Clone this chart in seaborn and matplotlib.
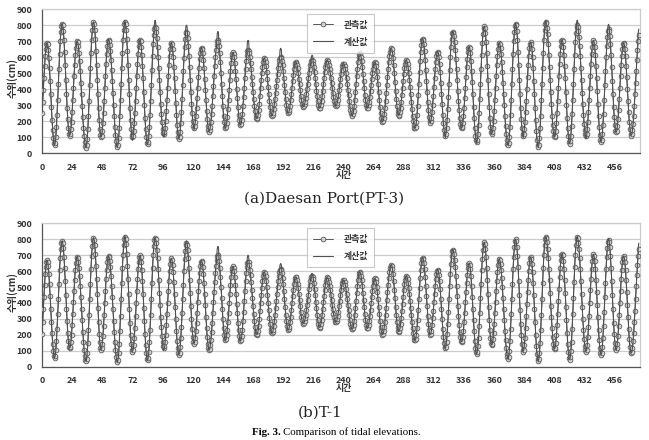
"""
Tidal elevation comparison: observed vs computed, two stations.
"""
import matplotlib
matplotlib.use('Agg')
import matplotlib.pyplot as plt
import seaborn as sns
import numpy as np

# half-hourly water level (cm)
step_hours = 0.5

# (a) Daesan Port (PT-3), observed
obs_a = [
    248, 319, 395, 471, 542, 604, 650, 680, 690,
    679, 647, 597, 530, 453, 370, 287, 210, 143, 93, 61, 50,
    63, 101, 161, 240, 332, 430, 528, 620, 699, 759, 797, 810,
    798, 763, 708, 635, 550, 460, 370, 285, 212, 157, 122, 110,
    120, 150, 196, 258, 329, 405, 481, 553, 614, 660, 690, 700,
    692, 667, 628, 575, 512, 441, 367, 294, 223, 160, 107, 68, 43, 35,
    48, 88, 150, 231, 326, 428, 529, 624, 705, 767, 807, 820,
    808, 772, 715, 640, 553, 460, 367, 280, 205, 148, 112, 100,
    110, 141, 189, 253, 326, 405, 484, 558, 621, 669, 700, 710,
    702, 677, 637, 584, 520, 449, 375, 301, 230, 166, 113, 73, 48, 40,
    53, 92, 154, 235, 329, 430, 531, 625, 706, 768, 807, 820,
    808, 772, 715, 640, 553, 460, 367, 280, 205, 148, 112, 100,
    110, 141, 189, 253, 326, 405, 484, 558, 621, 669, 700, 710,
    699, 666, 614, 546, 467, 382, 298, 219, 151, 99, 66, 55,
    67, 104, 162, 239, 328, 423, 517, 606, 683, 741, 778, 790,
    782, 757, 717, 664, 600, 529, 455, 381, 310, 246, 193, 153, 128, 120,
    130, 158, 203, 263, 331, 405, 479, 548, 607, 652, 680, 690,
    680, 650, 602, 540, 467, 390, 313, 240, 178, 130, 100, 90,
    101, 135, 188, 258, 339, 425, 511, 593, 662, 715, 749, 760,
    750, 720, 672, 610, 537, 460, 383, 310, 248, 200, 170, 160,
    169, 194, 233, 285, 346, 410, 475, 535, 587, 627, 652, 660,
    651, 625, 583, 529, 465, 397, 330, 266, 212, 170, 144, 135,
    142, 163, 197, 242, 296, 357, 420, 483, 544, 598, 643, 677, 698, 705,
    696, 668, 625, 567, 501, 430, 359, 292, 235, 192, 164, 155,
    163, 187, 224, 274, 331, 393, 454, 511, 561, 598, 622, 630,
    622, 600, 564, 516, 461, 402, 344, 289, 241, 205, 183, 175,
    183, 206, 244, 293, 349, 410, 471, 528, 576, 614, 637, 645,
    640, 624, 598, 564, 523, 478, 430, 382, 337, 296, 262, 236, 220, 215,
    221, 240, 270, 310, 356, 405, 454, 500, 540, 570, 589, 595,
    589, 571, 542, 505, 461, 415, 369, 325, 288, 259, 241, 235,
    240, 253, 275, 304, 338, 377, 418, 458, 497, 531, 560, 582, 595, 600,
    594, 577, 549, 512, 470, 425, 380, 337, 301, 273, 256, 250,
    255, 271, 297, 330, 369, 410, 451, 490, 523, 549, 565, 570,
    565, 551, 529, 500, 466, 430, 394, 360, 331, 309, 295, 290,
    294, 304, 322, 345, 372, 403, 435, 467, 498, 525, 548, 566, 576, 580,
    575, 560, 536, 505, 469, 430, 391, 355, 324, 300, 285, 280,
    285, 300, 324, 355, 391, 430, 469, 505, 536, 560, 575, 580,
    576, 566, 549, 526, 499, 469, 437, 406, 376, 349, 326, 309, 299, 295,
    300, 313, 334, 361, 393, 428, 462, 494, 521, 542, 555, 560,
    556, 544, 525, 499, 468, 434, 397, 361, 327, 296, 270, 251, 239, 235,
    242, 261, 292, 333, 380, 430, 480, 528, 568, 599, 618, 625,
    619, 602, 575, 539, 497, 452, 408, 366, 330, 303, 286, 280,
    285, 299, 322, 353, 388, 425, 462, 498, 528, 551, 565, 570,
    564, 545, 515, 476, 431, 382, 334, 289, 250, 220, 201, 195,
    201, 218, 245, 281, 325, 374, 425, 476, 525, 569, 605, 632, 649, 655,
    648, 627, 594, 550, 499, 445, 391, 340, 296, 263, 242, 235,
    241, 258, 285, 321, 363, 408, 452, 494, 530, 557, 574, 580,
    575, 559, 534, 500, 460, 415, 367, 320, 275, 235, 201, 176, 160, 155,
    165, 193, 237, 295, 363, 435, 507, 575, 633, 677, 705, 715,
    706, 680, 638, 584, 520, 452, 385, 321, 267, 225, 199, 190,
    198, 220, 255, 301, 355, 413, 470, 524, 570, 605, 627, 635,
    626, 600, 558, 504, 440, 372, 305, 241, 187, 145, 119, 110,
    121, 154, 205, 273, 351, 435, 519, 598, 665, 716, 749, 760,
    752, 730, 694, 646, 589, 525, 457, 390, 326, 269, 221, 185, 163, 155,
    164, 189, 229, 283, 344, 410, 476, 538, 591, 631, 656, 665,
    655, 625, 578, 516, 444, 367, 291, 219, 157, 110, 80, 70,
    82, 119, 176, 251, 339, 433, 526, 614, 689, 746, 783, 795,
    784, 750, 696, 626, 545, 457, 370, 289, 219, 165, 131, 120,
    130, 158, 203, 263, 331, 405, 479, 548, 607, 652, 680, 690,
    682, 658, 620, 570, 509, 441, 370, 299, 231, 170, 120, 82, 58, 50,
    63, 101, 161, 240, 332, 430, 528, 620, 699, 759, 797, 810,
    798, 763, 708, 635, 550, 460, 370, 285, 212, 157, 122, 110,
    120, 149, 195, 256, 327, 403, 478, 549, 610, 656, 685, 695,
    684, 651, 599, 531, 452, 367, 283, 204, 136, 84, 51, 40,
    53, 92, 154, 235, 329, 430, 531, 625, 706, 768, 807, 820,
    811, 784, 742, 685, 616, 540, 460, 380, 304, 235, 178, 136, 109, 100,
    110, 141, 189, 253, 326, 405, 484, 558, 621, 669, 700, 710,
    699, 666, 615, 547, 469, 385, 301, 222, 155, 104, 71, 60,
    73, 110, 168, 245, 335, 430, 525, 615, 692, 750, 787, 800,
    791, 766, 725, 670, 605, 532, 455, 378, 305, 240, 185, 144, 119, 110,
    120, 150, 197, 259, 331, 408, 484, 556, 618, 665, 695, 705,
    694, 662, 612, 546, 469, 387, 306, 229, 163, 113, 81, 70,
    82, 117, 173, 246, 332, 423, 513, 599, 672, 728, 763, 775,
    764, 732, 681, 614, 536, 452, 369, 291, 224, 173, 141, 130,
    140, 168, 212, 270, 338, 410, 482, 550, 608, 652, 680, 690,
    680, 651, 605, 545, 475, 400, 325, 255, 195, 149, 120, 110,
    118, 143, 182, 234, 297, 367, 440, 513, 583, 646, 698, 737,
]

# computed curve departs from the observed one only near some extremes
calc_a_hours = [66, 71.5, 72, 72.5, 89.5, 90, 90.5, 96.5, 97, 97.5,
                114.5, 115, 115.5, 121, 139.5, 140, 140.5, 163.5, 164, 164.5,
                189.5, 190, 190.5, 214.5, 215, 215.5, 321, 346, 383, 401,
                425.5, 426, 426.5, 432.5, 433, 433.5, 450.5, 451, 451.5,
                474.5, 475]
calc_a_vals = [830, 90, 80, 90, 805, 830, 815, 108, 100, 110,
               790, 800, 790, 145, 745, 760, 750, 695, 705, 700,
               645, 655, 648, 605, 612, 607, 95, 60, 95, 830,
               815, 830, 820, 98, 90, 100, 795, 805, 795,
               745, 775]

# (b) T-1, observed
obs_b = [
    205, 280, 360, 440, 515, 579, 628, 659, 670,
    660, 629, 580, 516, 442, 362, 283, 209, 145, 96, 65, 55,
    67, 104, 162, 239, 328, 423, 517, 606, 683, 741, 778, 790,
    779, 745, 691, 621, 540, 452, 365, 284, 214, 160, 126, 115,
    125, 154, 199, 259, 328, 403, 477, 546, 606, 651, 680, 690,
    682, 658, 619, 567, 505, 435, 362, 290, 220, 158, 106, 67, 43, 35,
    48, 87, 148, 229, 323, 423, 522, 616, 697, 758, 797, 810,
    798, 763, 707, 634, 548, 457, 367, 281, 208, 152, 117, 105,
    115, 145, 191, 253, 324, 400, 476, 548, 609, 655, 685, 695,
    687, 662, 623, 570, 507, 436, 362, 289, 218, 155, 102, 63, 38, 30,
    43, 83, 145, 226, 321, 423, 524, 619, 700, 762, 802, 815,
    803, 767, 710, 635, 548, 455, 362, 275, 200, 143, 107, 95,
    105, 136, 183, 246, 319, 398, 476, 549, 612, 659, 690, 700,
    689, 656, 604, 535, 455, 370, 285, 205, 136, 84, 51, 40,
    53, 92, 152, 233, 326, 425, 524, 618, 698, 758, 797, 810,
    801, 776, 735, 680, 615, 542, 465, 388, 315, 250, 195, 154, 129, 120,
    130, 158, 202, 260, 328, 400, 472, 540, 598, 642, 670, 680,
    670, 639, 592, 529, 456, 377, 299, 226, 163, 116, 85, 75,
    87, 122, 177, 250, 335, 425, 515, 600, 673, 728, 763, 775,
    764, 733, 683, 617, 541, 460, 379, 302, 237, 187, 156, 145,
    154, 180, 221, 275, 338, 405, 472, 535, 589, 630, 656, 665,
    655, 627, 583, 525, 457, 385, 313, 245, 187, 143, 115, 105,
    112, 134, 170, 217, 273, 336, 403, 469, 532, 588, 635, 671, 693, 700,
    691, 664, 622, 566, 502, 432, 363, 299, 243, 201, 174, 165,
    173, 196, 233, 281, 338, 398, 457, 514, 562, 599, 622, 630,
    622, 599, 561, 512, 456, 395, 334, 277, 229, 191, 168, 160,
    169, 194, 233, 285, 346, 410, 475, 535, 587, 627, 652, 660,
    654, 637, 610, 574, 530, 481, 430, 379, 330, 286, 250, 223, 206, 200,
    207, 226, 258, 299, 347, 398, 448, 496, 537, 569, 588, 595,
    588, 569, 539, 499, 452, 402, 353, 306, 266, 236, 217, 210,
    215, 230, 254, 286, 325, 368, 413, 457, 500, 539, 571, 595, 610, 615,
    608, 589, 559, 519, 472, 422, 373, 326, 286, 256, 237, 230,
    236, 252, 279, 314, 354, 398, 441, 481, 516, 543, 559, 565,
    560, 545, 522, 491, 456, 417, 379, 344, 313, 290, 275, 270,
    274, 285, 303, 326, 355, 387, 420, 453, 485, 514, 537, 555, 566, 570,
    564, 548, 523, 489, 449, 407, 366, 326, 292, 267, 251, 245,
    250, 266, 291, 324, 362, 403, 443, 481, 514, 539, 555, 560,
    556, 546, 529, 507, 481, 451, 420, 389, 359, 333, 311, 294, 283, 280,
    285, 298, 319, 346, 378, 413, 447, 479, 506, 527, 540, 545,
    541, 530, 511, 487, 457, 424, 390, 356, 323, 293, 269, 250, 239, 235,
    241, 259, 288, 325, 369, 415, 461, 505, 542, 571, 589, 595,
    589, 571, 543, 506, 463, 417, 372, 329, 292, 264, 246, 240,
    245, 261, 286, 319, 357, 398, 438, 476, 509, 534, 550, 555,
    549, 531, 503, 466, 423, 377, 332, 289, 252, 224, 206, 200,
    206, 222, 248, 283, 325, 371, 420, 469, 515, 557, 592, 618, 635, 640,
    633, 612, 579, 535, 484, 430, 376, 325, 281, 248, 227, 220,
    226, 243, 271, 308, 350, 395, 440, 483, 519, 547, 564, 570,
    565, 550, 526, 494, 455, 412, 367, 323, 280, 241, 209, 185, 170, 165,
    174, 200, 241, 295, 358, 425, 492, 555, 609, 650, 676, 685,
    677, 653, 614, 564, 505, 442, 380, 321, 271, 232, 208, 200,
    207, 227, 260, 303, 352, 405, 458, 508, 550, 583, 603, 610,
    602, 577, 538, 486, 426, 362, 299, 239, 187, 148, 123, 115,
    126, 157, 206, 270, 345, 425, 505, 580, 644, 693, 724, 735,
    728, 706, 672, 626, 571, 509, 445, 381, 319, 264, 218, 184, 162, 155,
    163, 188, 227, 279, 339, 403, 466, 526, 578, 617, 642, 650,
    640, 612, 567, 507, 439, 365, 291, 222, 163, 118, 90, 80,
    92, 127, 182, 255, 340, 430, 520, 605, 678, 733, 768, 780,
    769, 737, 686, 619, 541, 457, 374, 296, 229, 178, 146, 135,
    144, 171, 214, 270, 335, 405, 475, 540, 596, 639, 666, 675,
    667, 644, 607, 557, 498, 432, 362, 293, 227, 167, 118, 81, 58, 50,
    63, 100, 160, 238, 328, 425, 522, 613, 691, 750, 787, 800,
    788, 753, 697, 624, 538, 447, 357, 271, 198, 142, 107, 95,
    105, 135, 182, 244, 316, 393, 469, 541, 603, 650, 680, 690,
    679, 646, 594, 526, 447, 362, 278, 199, 131, 79, 46, 35,
    48, 87, 149, 230, 324, 425, 526, 620, 701, 763, 802, 815,
    806, 780, 738, 682, 615, 541, 462, 384, 310, 243, 187, 145, 119, 110,
    120, 150, 198, 260, 333, 410, 487, 560, 622, 670, 700, 710,
    699, 665, 613, 544, 463, 377, 292, 211, 142, 90, 56, 45,
    58, 97, 157, 238, 331, 430, 529, 623, 703, 763, 802, 815,
    806, 779, 737, 680, 611, 535, 455, 375, 299, 230, 173, 131, 104, 95,
    105, 136, 184, 248, 321, 400, 479, 553, 616, 664, 695, 705,
    694, 663, 613, 547, 471, 390, 309, 232, 167, 117, 86, 75,
    87, 123, 180, 255, 342, 435, 528, 615, 690, 747, 783, 795,
    783, 749, 694, 622, 539, 450, 361, 277, 206, 151, 117, 105,
    115, 145, 191, 253, 324, 400, 476, 548, 609, 655, 685, 695,
    685, 654, 606, 542, 469, 390, 311, 237, 174, 126, 95, 85,
    94, 119, 160, 214, 279, 351, 428, 504, 576, 641, 695, 736,
]

calc_b_hours = [66, 96.5, 97, 97.5, 114.5, 115, 115.5, 139.5, 140, 140.5,
                163.5, 164, 164.5, 189.5, 190, 190.5, 214.5, 215, 215.5,
                450.5, 451, 451.5, 474.5, 475]
calc_b_vals = [825, 112, 105, 112, 785, 790, 782, 740, 755, 745,
               690, 700, 692, 640, 648, 640, 582, 586, 580,
               800, 805, 795, 730, 775]

x_ticks = list(range(0, 457, 24))
y_ticks = list(range(0, 901, 100))
legend_labels = ['관측값', '계산값']
panel_titles = ['(a)Daesan Port(PT-3)', '(b)T-1']

sns.set_theme(style='white')
plt.rcParams['font.family'] = ['Noto Sans CJK KR', 'DejaVu Sans']
plt.rcParams['font.weight'] = 'bold'


def build_calc(obs, hours, vals):
    calc = np.array(obs, dtype=float)
    for h, v in zip(hours, vals):
        calc[int(round(h / step_hours))] = v
    return calc


def draw_panel(ax, obs, calc):
    t = np.arange(len(obs)) * step_hours
    ax.yaxis.grid(True, color='#cccccc', lw=0.9)
    ax.set_axisbelow(True)
    sns.lineplot(x=t, y=obs, ax=ax, color='#3c3c3c', lw=0.6, marker='o',
                 markersize=3.4, markerfacecolor='#d4d4d4', markeredgecolor='#5a5a5a',
                 markeredgewidth=0.6, label=legend_labels[0], zorder=3)
    sns.lineplot(x=t, y=calc, ax=ax, color='#505050', lw=0.8,
                 label=legend_labels[1], zorder=4)
    ax.set_xlim(0, 476)
    ax.set_ylim(0, 900)
    ax.set_xticks(x_ticks)
    ax.set_yticks(y_ticks)
    ax.tick_params(axis='x', length=3, width=0.6, color='#999999', pad=4,
                   labelsize=6.4, labelcolor='#333333')
    ax.tick_params(axis='y', length=0, pad=7, labelsize=6.4, labelcolor='#333333')
    for side in ['top', 'right']:
        ax.spines[side].set_color('#cccccc')
        ax.spines[side].set_linewidth(0.9)
    for side in ['left', 'bottom']:
        ax.spines[side].set_color('#555555')
        ax.spines[side].set_linewidth(0.9)
    ax.set_xlabel('시간', fontsize=6.4, fontweight='bold', color='#333333')
    ax.xaxis.set_label_coords(0.505, -0.155)
    ax.xaxis.label.set_va('center')
    ax.set_ylabel('수위(cm)', fontsize=7, fontweight='bold', color='#333333')
    ax.yaxis.set_label_coords(-0.05, 0.52)
    ax.yaxis.label.set_va('center')
    leg = ax.legend(loc='upper left', bbox_to_anchor=(0.443, 0.965), frameon=True,
                    fancybox=False, edgecolor='#bbbbbb', fontsize=6.4,
                    handlelength=2.2, labelspacing=0.9, borderpad=0.7,
                    handletextpad=1.2, borderaxespad=0)
    leg.get_frame().set_linewidth(0.8)
    for txt in leg.get_texts():
        txt.set_color('#333333')
        txt.set_fontweight('bold')


fig = plt.figure(figsize=(6.49, 4.40), dpi=100)
ax1 = fig.add_axes([0.0647, 0.652, 0.9214, 0.3273])
ax2 = fig.add_axes([0.0647, 0.1666, 0.9214, 0.3259])

draw_panel(ax1, obs_a, build_calc(obs_a, calc_a_hours, calc_a_vals))
draw_panel(ax2, obs_b, build_calc(obs_b, calc_b_hours, calc_b_vals))

fig.text(0.5, 1 - 199 / 440, panel_titles[0], ha='center', va='center',
         family='DejaVu Serif', fontweight='normal', fontsize=11, color='#222222')
fig.text(0.494, 1 - 413 / 440, panel_titles[1], ha='center', va='center',
         family='DejaVu Serif', fontweight='normal', fontsize=11, color='#222222')
fig.text(252 / 649, 1 - 432 / 440, 'Fig. 3.', ha='left', va='center',
         family='Liberation Serif', fontweight='bold', fontsize=7.8, color='black')
fig.text(283 / 649, 1 - 432 / 440, 'Comparison of tidal elevations.', ha='left',
         va='center', family='Liberation Serif', fontweight='normal',
         fontsize=7.8, color='black')

fig.savefig('out.png', dpi=100)
plt.close(fig)
